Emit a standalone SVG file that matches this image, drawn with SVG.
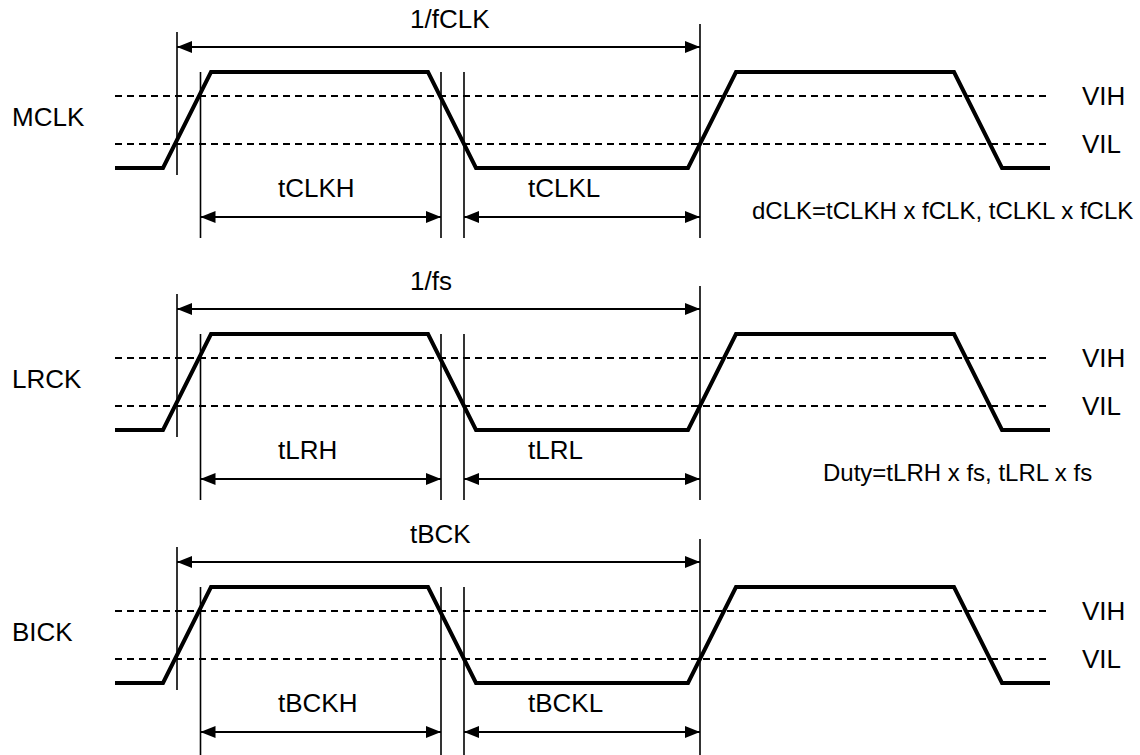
<svg xmlns="http://www.w3.org/2000/svg" width="1140" height="755" viewBox="0 0 1140 755">
  <defs>
    <style>
      .wave { fill: none; stroke: #000; stroke-width: 4; stroke-linejoin: miter; }
      .dash { fill: none; stroke: #000; stroke-width: 1.8; stroke-dasharray: 7 5; }
      .vline { fill: none; stroke: #000; stroke-width: 1.6; }
      .arrow { fill: none; stroke: #000; stroke-width: 2; marker-start: url(#ah); marker-end: url(#ah); }
      .lbl { font-family: "Liberation Sans", Arial, sans-serif; font-size: 26px; fill: #000; }
      .frm { font-family: "Liberation Sans", Arial, sans-serif; font-size: 24px; fill: #000; }
    </style>
    <marker id="ah" markerUnits="userSpaceOnUse" markerWidth="15" markerHeight="12" refX="15" refY="6" orient="auto-start-reverse">
      <path d="M0,0 L15,6 L0,12 z" fill="#000"/>
    </marker>
  </defs>
  <rect width="1140" height="755" fill="#fff"/>

  <!-- MCLK row -->
  <g id="mclk">
    <text class="lbl" x="12" y="126">MCLK</text>
    <line class="dash" x1="115" y1="96" x2="1048" y2="96"/>
    <line class="dash" x1="115" y1="144" x2="1048" y2="144"/>
    <path class="wave" d="M115,168 H163 L211,72 H428 L476,168 H688 L736,72 H954 L1002,168 H1050"/>
    <text class="lbl" x="1082" y="105">VIH</text>
    <text class="lbl" x="1082" y="153">VIL</text>
    <line class="vline" x1="177" y1="32" x2="177" y2="175"/>
    <line class="vline" x1="200.5" y1="72" x2="200.5" y2="238"/>
    <line class="vline" x1="441" y1="72" x2="441" y2="238"/>
    <line class="vline" x1="464" y1="72" x2="464" y2="238"/>
    <line class="vline" x1="700" y1="24" x2="700" y2="238"/>
    <text class="lbl" x="410" y="28">1/fCLK</text>
    <text class="lbl" x="278" y="197">tCLKH</text>
    <text class="lbl" x="528" y="197">tCLKL</text>
    <text class="frm" x="752" y="219">dCLK=tCLKH x fCLK, tCLKL x fCLK</text>
  </g>

  <!-- LRCK row -->
  <g id="lrck" transform="translate(0,262)">
    <text class="lbl" x="12" y="126">LRCK</text>
    <line class="dash" x1="115" y1="96" x2="1048" y2="96"/>
    <line class="dash" x1="115" y1="144" x2="1048" y2="144"/>
    <path class="wave" d="M115,168 H163 L211,72 H428 L476,168 H688 L736,72 H954 L1002,168 H1050"/>
    <text class="lbl" x="1082" y="105">VIH</text>
    <text class="lbl" x="1082" y="153">VIL</text>
    <line class="vline" x1="177" y1="32" x2="177" y2="175"/>
    <line class="vline" x1="200.5" y1="72" x2="200.5" y2="238"/>
    <line class="vline" x1="441" y1="72" x2="441" y2="238"/>
    <line class="vline" x1="464" y1="72" x2="464" y2="238"/>
    <line class="vline" x1="700" y1="24" x2="700" y2="238"/>
    <text class="lbl" x="410" y="28">1/fs</text>
    <text class="lbl" x="278" y="197">tLRH</text>
    <text class="lbl" x="528" y="197">tLRL</text>
    <text class="frm" x="823" y="219">Duty=tLRH x fs, tLRL x fs</text>
  </g>

  <!-- BICK row -->
  <g id="bick" transform="translate(0,515)">
    <text class="lbl" x="12" y="126">BICK</text>
    <line class="dash" x1="115" y1="96" x2="1048" y2="96"/>
    <line class="dash" x1="115" y1="144" x2="1048" y2="144"/>
    <path class="wave" d="M115,168 H163 L211,72 H428 L476,168 H688 L736,72 H954 L1002,168 H1050"/>
    <text class="lbl" x="1082" y="105">VIH</text>
    <text class="lbl" x="1082" y="153">VIL</text>
    <line class="vline" x1="177" y1="32" x2="177" y2="175"/>
    <line class="vline" x1="200.5" y1="72" x2="200.5" y2="240"/>
    <line class="vline" x1="441" y1="72" x2="441" y2="240"/>
    <line class="vline" x1="464" y1="72" x2="464" y2="240"/>
    <line class="vline" x1="700" y1="24" x2="700" y2="240"/>
    <text class="lbl" x="410" y="28">tBCK</text>
    <text class="lbl" x="278" y="197">tBCKH</text>
    <text class="lbl" x="528" y="197">tBCKL</text>
  </g>

  <!-- dimension arrows -->
  <g id="connectors">
    <line class="arrow" x1="177" y1="47" x2="700" y2="47"/>
    <line class="arrow" x1="200.5" y1="217" x2="441" y2="217"/>
    <line class="arrow" x1="464" y1="217" x2="700" y2="217"/>
    <line class="arrow" x1="177" y1="309" x2="700" y2="309"/>
    <line class="arrow" x1="200.5" y1="479" x2="441" y2="479"/>
    <line class="arrow" x1="464" y1="479" x2="700" y2="479"/>
    <line class="arrow" x1="177" y1="562" x2="700" y2="562"/>
    <line class="arrow" x1="200.5" y1="732" x2="441" y2="732"/>
    <line class="arrow" x1="464" y1="732" x2="700" y2="732"/>
  </g>
</svg>
